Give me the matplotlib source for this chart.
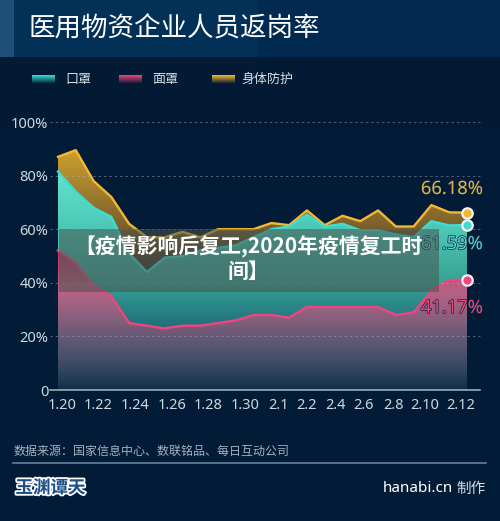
import numpy as np
import matplotlib
matplotlib.use("Agg")
import matplotlib.pyplot as plt
import matplotlib.patheffects as pe
from matplotlib.colors import to_rgb
from matplotlib.patches import Rectangle

plt.rcParams['font.family'] = ['Noto Sans CJK SC', 'DejaVu Sans']

W, H = 500, 521
BG = '#021c38'

dates = ['1.20','1.21','1.22','1.23','1.24','1.25','1.26','1.27','1.28','1.29','1.30','1.31',
         '2.1','2.2','2.3','2.4','2.5','2.6','2.7','2.8','2.9','2.10','2.11','2.12']
body = [87,89.5,78,72,62,57,57,59,57,60,60,60,62.3,61.5,67,61.5,65,63,67,61,61,69,66.3,66.18]
mask = [81.5,74,68,64.6,51,44,49.4,50,52,53,54,57,60,61,65.4,61,62,59.6,59.6,58,57,63,61.4,61.59]
face = [52,47.4,39,35,25,24,23,24,24,25,26,28,28,27,31,31,31,31,31,28,29,37,41,41.17]

tick_pos = [0.22,2.25,4.33,6.41,8.44,10.5,12.4,13.95,15.6,17.2,18.84,20.6,22.67]
tick_labels = ['1.20','1.22','1.24','1.26','1.28','1.30','2.1','2.2','2.4','2.6','2.8','2.10','2.12']
y_ticks = [0,20,40,60,80,100]
y_labels = ['0','20%','40%','60%','80%','100%']

legend_names = ['口罩','面罩','身体防护']
title = '医用物资企业人员返岗率'
source = '数据来源：国家信息中心、数联铭品、每日互动公司'
overlay = '【疫情影响后复工,2020年疫情复工时\n间】'
logo = '玉渊谭天'
credit = 'hanabi.cn'

GOLD, TEAL, PINK = '#f3b731', '#3fdcd2', '#f0457c'

fig = plt.figure(figsize=(W/100, H/100), dpi=100, facecolor=BG)

# page furniture in pixel coordinates
bgax = fig.add_axes([0, 0, 1, 1], zorder=0)
bgax.set_xlim(0, W); bgax.set_ylim(H, 0); bgax.axis('off')
bgax.imshow(np.array([[0.0, 1.0]]), extent=(14, W, 57, 0), aspect='auto',
            cmap=matplotlib.colors.LinearSegmentedColormap.from_list('h', ['#023057', '#022a50']))
bgax.set_xlim(0, W); bgax.set_ylim(H, 0)
bgax.add_patch(Rectangle((0, 0), 14, 57, color='#1c4f78', lw=0))
bgax.add_patch(Rectangle((0, 57), W, 70, color='#021a33', lw=0))
bgax.text(28.5, 29.5, title, color='white', fontsize=19.1, va='center', ha='left', fontweight='medium')

for x0, tx, name, col in zip([32, 119, 212], [65, 152, 241], legend_names, [TEAL, PINK, GOLD]):
    c = np.array(to_rgb(col))
    grad = np.zeros((16, 1, 4)); grad[..., :3] = c
    grad[:, 0, 3] = np.linspace(1, 0.12, 16)
    bgax.imshow(grad, extent=(x0, x0 + 23, 83, 75.5), aspect='auto', zorder=2)
    bgax.text(tx, 79, name, color='#d5dee4', fontsize=9.4, va='center', ha='left')
bgax.set_xlim(0, W); bgax.set_ylim(H, 0)

bgax.text(14, 451.5, source, color='#a4b2bd', fontsize=8.63, va='center', ha='left')
bgax.plot([13, 486], [462.5, 462.5], color='#5f8299', lw=1.2)
bgax.text(50.5, 488, logo, color='#1d4e86', fontsize=12.6, fontweight='bold', va='center', ha='center',
          path_effects=[pe.withStroke(linewidth=2.5, foreground='white')])
bgax.text(453, 488.5, credit, color='white', fontsize=11, fontweight='bold', va='center', ha='right',
          family=['Noto Sans', 'DejaVu Sans'])
bgax.text(486, 488.5, '制作', color='#d5dee4', fontsize=10.5, va='center', ha='right')

# chart axes: x 58..467 px, y 122..390 px
ax = fig.add_axes([58/W, 1 - 390/H, (467-58)/W, (390-122)/H], zorder=1)
ax.patch.set_alpha(0)
x = np.arange(len(dates))
ax.set_xlim(0, len(dates) - 1)
ax.set_ylim(0, 100)
for s in ax.spines.values():
    s.set_visible(False)

def gradient(stops):
    ys = np.linspace(100, 0, 256)
    pos = [p for p, _, _ in stops]
    rgb = np.array([to_rgb(c) for _, c, _ in stops])
    al = [a for _, _, a in stops]
    img = np.zeros((256, 1, 4))
    for k in range(3):
        img[:, 0, k] = np.interp(ys, pos, rgb[:, k])
    img[:, 0, 3] = np.interp(ys, pos, al)
    return img

def area(values, stops, line, z):
    poly = ax.fill_between(x, 0, values, color='none', lw=0)
    im = ax.imshow(gradient(stops), extent=(0, len(dates) - 1, 0, 100), aspect='auto', zorder=z)
    im.set_clip_path(poly.get_paths()[0], transform=ax.transData)
    ax.plot(x, values, color=line, lw=1.7, zorder=z + 0.5, solid_joinstyle='round', clip_on=False)

area(body, [(0, '#1a2a40', 0.0), (50, '#4a3f2c', 1), (62, '#7d632c', 1), (90, '#cfa030', 1)], GOLD, 2)
area(mask, [(0, '#123048', 1), (20, '#1a6478', 1), (40, '#38a193', 1), (60, '#4cc7b6', 1), (82, '#62e4cf', 1)], TEAL, 3)
area(face, [(0, '#b0507a', 0.0), (20, '#a84f76', 0.55), (37, '#c25f85', 0.95), (52, '#b8345f', 1)], PINK, 4)
ax.set_ylim(0, 100); ax.set_xlim(0, len(dates) - 1)

# ticks, gridlines, baseline
ax.set_xticks(tick_pos, tick_labels)
ax.set_yticks(y_ticks, y_labels)
ax.tick_params(length=0, colors='#cdd8de', labelsize=10.5)
ax.tick_params(axis='x', pad=5.5)
ax.tick_params(axis='y', pad=7)
for lab in ax.get_xticklabels() + ax.get_yticklabels():
    lab.set_family(['Noto Sans', 'DejaVu Sans'])
left = (50 - 58) / 17.78
right = (480 - 58) / 17.78
for yv in y_ticks[1:]:
    ax.plot([left, right], [yv, yv], color='#a9b8c4', lw=0.7, ls=(0, (2.5, 3)), alpha=0.45,
            zorder=5, clip_on=False)
ax.plot([left, right], [0, 0], color='#a9b8c4', lw=1.1, zorder=6, clip_on=False)

# end points and labels
for series, col in [(body, GOLD), (mask, TEAL), (face, PINK)]:
    ax.plot(x[-1], series[-1], 'o', ms=7.5, mfc=col, mec='#f1f5f7', mew=1.6, zorder=8, clip_on=False)
for series, col, txt_y in [(body, '#e2b548', 75), (mask, '#56d7cf', 54.4), (face, '#f0457c', 30.6)]:
    ax.text(x[-1] + 0.9, txt_y, f'{series[-1]:.2f}%', color=col, fontsize=13.2, ha='right', va='center',
            family=['Noto Sans', 'DejaVu Sans'], zorder=7, clip_on=False,
            path_effects=[pe.withStroke(linewidth=1.0, foreground='#10263c')])

# overlay caption band
top = fig.add_axes([0, 0, 1, 1], zorder=3)
top.set_xlim(0, W); top.set_ylim(H, 0); top.axis('off'); top.patch.set_alpha(0)
top.add_patch(Rectangle((59, 229), 380, 63, color='#4a5450', alpha=0.55, lw=0))
top.text(248, 259, overlay, color='white', fontsize=15, fontweight='bold', ha='center', va='center',
         linespacing=1.15, family=['Noto Sans CJK SC', 'DejaVu Sans'])

fig.savefig('out.png', dpi=100, facecolor=BG)
